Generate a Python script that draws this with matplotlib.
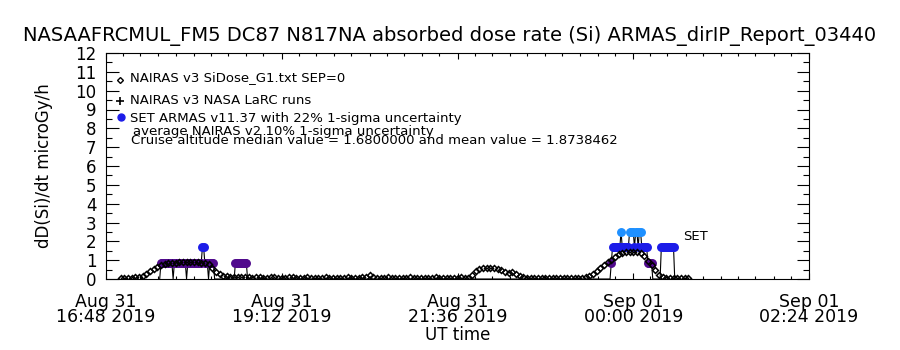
import numpy as np
import matplotlib
matplotlib.use("Agg")
import matplotlib.pyplot as plt
import matplotlib.dates as mdates

# ---- data (minutes after 2019-08-31 16:48 UT) ----
start_time = np.datetime64("2019-08-31T16:48")
span_minutes = 576

# NAIRAS v3 SiDose_G1 model, sampled every 3 min from 17:00 to 00:45
nairas_start, nairas_step = 12, 3
nairas_dose = [
    0.06, 0.06, 0.07, 0.07, 0.08, 0.10, 0.15, 0.27, 0.40, 0.52,
    0.63, 0.74, 0.82, 0.86, 0.87, 0.87, 0.88, 0.88, 0.88, 0.88,
    0.88, 0.88, 0.87, 0.86, 0.80, 0.58, 0.36, 0.24, 0.18, 0.15,
    0.12, 0.10, 0.09, 0.08,
    0.08, 0.08, 0.07, 0.08, 0.08, 0.07, 0.07, 0.08, 0.08, 0.07,
    0.07, 0.07, 0.08, 0.08, 0.07, 0.07, 0.07, 0.08, 0.07, 0.07,
    0.07, 0.07, 0.08, 0.07, 0.07, 0.07, 0.07, 0.07, 0.08, 0.07,
    0.07, 0.07, 0.08,
    0.12, 0.20, 0.12,
    0.07, 0.07, 0.07, 0.08, 0.07, 0.07, 0.07, 0.07, 0.07, 0.08,
    0.07, 0.07, 0.07, 0.07, 0.07, 0.07, 0.08, 0.07, 0.07, 0.07,
    0.07, 0.07, 0.07, 0.08, 0.07, 0.07,
    0.20, 0.45, 0.55, 0.57, 0.57, 0.57, 0.56, 0.55, 0.50, 0.35,
    0.33, 0.35, 0.28, 0.15, 0.09,
    0.07, 0.07, 0.07, 0.07, 0.06, 0.07, 0.07, 0.07, 0.06, 0.07,
    0.07, 0.07, 0.06, 0.07, 0.07, 0.07,
    0.08, 0.15, 0.28, 0.42, 0.57, 0.72, 0.88, 1.03, 1.18, 1.32,
    1.38, 1.42, 1.44, 1.44, 1.42, 1.38, 1.20, 0.95, 0.72, 0.50,
    0.20, 0.08,
    0.06, 0.06, 0.06, 0.06, 0.06, 0.06, 0.06,
]

# NAIRAS v3 NASA LaRC runs (none in this window)
larc_minutes = []
larc_dose = []

# ARMAS SET measurements (1-min cadence while flying)
armas_minutes = [
    44, 45, 46, 47, 48, 49, 50, 51, 52, 53, 54, 55, 56, 57, 58, 59, 60,
    61, 62, 63, 64, 65, 66, 67, 68, 69, 70, 71, 72, 73, 74, 75, 76, 77,
    78, 79, 80, 81, 82, 83, 84, 85, 86, 87, 88, 89,
    105, 106, 107, 108, 109, 110, 111, 112, 113, 114, 115, 116,
    413, 414, 415, 416, 417, 418, 419, 420, 421, 422, 423, 424, 425, 426,
    427, 428, 429, 430, 431, 432, 433, 434, 435, 436, 437, 438, 439, 440,
    441, 442, 443, 444, 445, 446, 447, 448,
    454, 455, 456, 457, 458, 459, 460, 461, 462, 463, 464, 465, 466,
]
armas_dose = [
    0, 0.84, 0.84, 0.84, 0.84, 0.84, 0.84, 0.84, 0.84, 0.84, 0.84, 0, 0.84, 0.84, 0.84, 0.84, 0.84,
    0.84, 0.84, 0.84, 0.84, 0.84, 0, 0.84, 0.84, 0.84, 0.84, 0.84, 0.84, 0.84, 0.84, 0.84, 0.84, 0.84,
    0.84, 1.68, 1.68, 0.84, 0.84, 0.84, 0, 0.84, 0.84, 0.84, 0.84, 0,
    0, 0.84, 0.84, 0.84, 0.84, 0.84, 0.84, 0.84, 0.84, 0.84, 0.84, 0,
    0, 0.84, 1.68, 1.68, 1.68, 1.68, 1.68, 1.68, 1.68, 2.52, 1.68, 1.68, 1.68, 1.68,
    1.68, 1.68, 2.52, 2.52, 2.52, 2.52, 1.68, 2.52, 2.52, 1.68, 2.52, 2.52, 1.68, 1.68,
    1.68, 1.68, 1.68, 0.84, 0.84, 0.84, 0.84, 0,
    0, 1.68, 1.68, 1.68, 1.68, 1.68, 1.68, 1.68, 1.68, 1.68, 1.68, 1.68, 0,
]
set_colors = {0.84: "#500a8c", 1.68: "#1c1ce8", 2.52: "#1e90ff"}

tick_minutes = [0, 144, 288, 432, 576]


def to_time(minutes):
    return start_time + np.array(minutes, dtype=float).astype(int) * np.timedelta64(60, "s")


nairas_t = to_time(nairas_start + nairas_step * np.arange(len(nairas_dose)))
armas_t = to_time(armas_minutes)
armas_v = np.array(armas_dose)

fig = plt.figure(figsize=(9, 3.5), dpi=100)
ax = fig.add_axes([106 / 900, 71 / 350, 703 / 900, 226 / 350])

# ARMAS: thin connecting line + coloured dots for non-zero values
ax.plot(armas_t, armas_v, color="black", lw=0.8, zorder=2)
for level, col in set_colors.items():
    m = np.isclose(armas_v, level)
    ax.plot(armas_t[m], armas_v[m], "o", ms=5.4, color=col, mec=col, zorder=3)

ax.plot(nairas_t, nairas_dose, "D", ms=3.0, mfc="none", mec="black", mew=1.1, zorder=4)
ax.plot(to_time(larc_minutes), larc_dose, "+", color="black", ms=5)

ax.set_xlim(start_time, start_time + np.timedelta64(span_minutes, "m"))
ax.set_ylim(0, 12)
ax.set_yticks(range(0, 13))
ax.set_yticks(np.arange(0, 12, 0.5), minor=True)
ax.set_xticks(to_time(tick_minutes))
ax.set_xticks(to_time(np.arange(0, span_minutes + 1, 14.4)), minor=True)
ax.xaxis.set_major_formatter(mdates.DateFormatter("%b %d\n%H:%M %Y"))
ax.tick_params(axis="both", which="both", direction="in", top=True, right=True, width=0.8)
ax.tick_params(axis="y", which="major", length=9, pad=7, labelsize=12)
ax.tick_params(axis="y", which="minor", length=4)
ax.tick_params(axis="x", which="major", length=4, pad=10, labelsize=12.5)
ax.tick_params(axis="x", which="minor", length=2.5)
for lab in ax.get_xticklabels():
    lab.set_linespacing(0.78)
for s in ax.spines.values():
    s.set_linewidth(0.8)

ax.set_xlabel("UT time", fontsize=12, labelpad=0)
ax.set_ylabel("dD(Si)/dt microGy/h", fontsize=12, labelpad=16)
fig.text(0.5, 1 - 36 / 350, "NASAAFRCMUL_FM5 DC87 N817NA absorbed dose rate (Si) ARMAS_dirIP_Report_03440",
         ha="center", va="center", fontsize=14)

# in-plot legend
leg_fs = 9.5
fig.lines.append(plt.Line2D([120 / 900], [1 - 80 / 350], marker="D", ms=3, mfc="white", mec="black",
                            mew=1, transform=fig.transFigure, ls="none"))
fig.lines.append(plt.Line2D([120 / 900], [1 - 101 / 350], marker="+", ms=6, color="black",
                            mew=1.2, transform=fig.transFigure, ls="none"))
fig.lines.append(plt.Line2D([121 / 900], [1 - 117 / 350], marker="o", ms=5, color=set_colors[1.68],
                            transform=fig.transFigure, ls="none"))
fig.text(130 / 900, 1 - 78 / 350, "NAIRAS v3 SiDose_G1.txt SEP=0", fontsize=leg_fs, va="center")
fig.text(130 / 900, 1 - 100 / 350, "NAIRAS v3 NASA LaRC runs", fontsize=leg_fs, va="center")
fig.text(130 / 900, 1 - 118 / 350, "SET ARMAS v11.37 with 22% 1-sigma uncertainty", fontsize=leg_fs, va="center")
fig.text(133 / 900, 1 - 131 / 350, "average NAIRAS v2 10% 1-sigma uncertainty", fontsize=leg_fs, va="center")
fig.text(131 / 900, 1 - 141 / 350,
         "Cruise altitude median value = 1.6800000 and mean value = 1.8738462", fontsize=leg_fs, va="center")
fig.text(683 / 900, 1 - 237 / 350, "SET", fontsize=leg_fs, va="center")

fig.savefig("out.png", dpi=100)
